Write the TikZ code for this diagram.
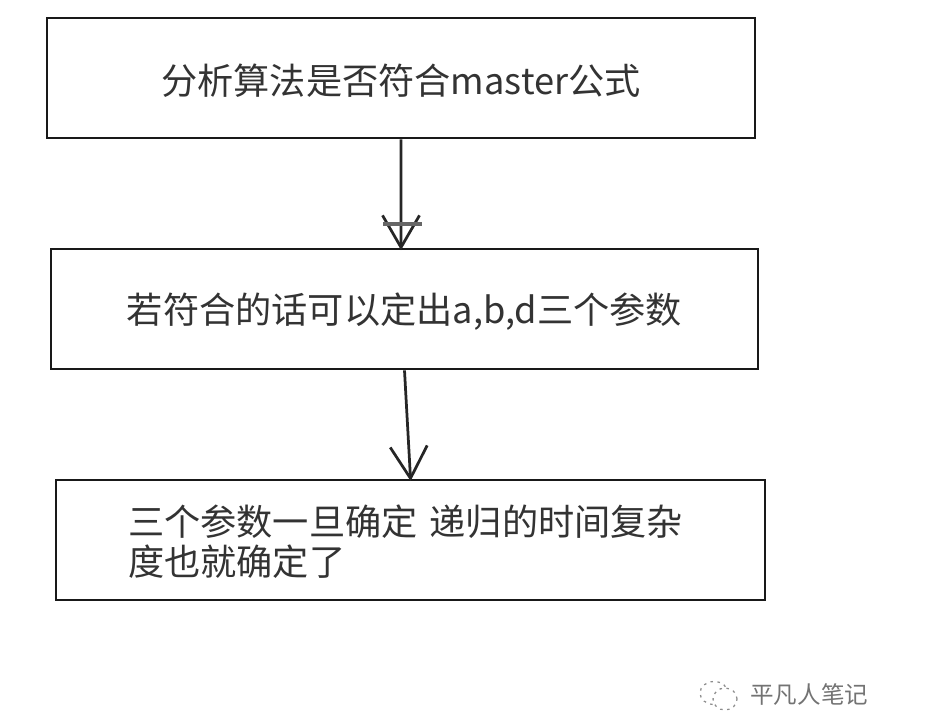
\documentclass[tikz,border=0pt]{standalone}
\usepackage{fontspec}
\setmainfont{Noto Sans CJK SC}
\usetikzlibrary{arrows.meta}
\tikzset{
	stepbox/.style={draw=black!90, line width=.055cm, inner sep=0pt, minimum height=2.4cm, font=\fontsize{20.6}{23.3}\selectfont, text=black!80},
	oneline/.style={text height=.7cm, text depth=.04cm},
	stepline/.style={draw=black!85, line width=.055cm, shorten >=-.05cm, -{Straight Barb[length=.64cm,width=.74cm,line width=.055cm]}},
	markname/.style={font=\fontsize{13.4}{16}\selectfont, text=black!55, inner sep=0pt},
	bubble/.style={draw=black!45, line width=.025cm, dash pattern=on .05cm off .09cm}
}
\begin{document}
\begin{tikzpicture}
\useasboundingbox (0,0) rectangle (18.94,-14.36);

\node [stepbox, oneline, minimum width=14.16cm] (analyse) at (8.02,-1.56) {分析算法是否符合master公式};
\node [stepbox, oneline, text depth=.12cm, minimum width=14.14cm] (params) at (8.09,-6.18) {若符合的话可以定出a,b,d三个参数};
\node [stepbox, text width=11.3cm, inner xsep=1.44cm, align=left] (result) at (8.21,-10.8)
	{\raisebox{0pt}[.68cm]{三个参数一旦确定 递归的时间复杂}\\度也就确定了};

\draw [stepline] (analyse.south) -- ([xshift=-.07cm]params.north);
\draw [stepline] (params.south) -- (result.north);
% stray bar across the first arrow head
\draw [draw=black!60, line width=.09cm] ([xshift=-.43cm,yshift=.47cm]params.north) -- ([xshift=.35cm,yshift=.47cm]params.north);

% mark at the lower right
\node [markname, anchor=west] (markname) at (15,-13.9) {平凡人笔记};
\draw [bubble] (14.28,-13.86) ellipse (.28cm and .23cm);
\draw [bubble, fill=white] (14.5,-13.98) ellipse (.24cm and .22cm);
\end{tikzpicture}
\end{document}
